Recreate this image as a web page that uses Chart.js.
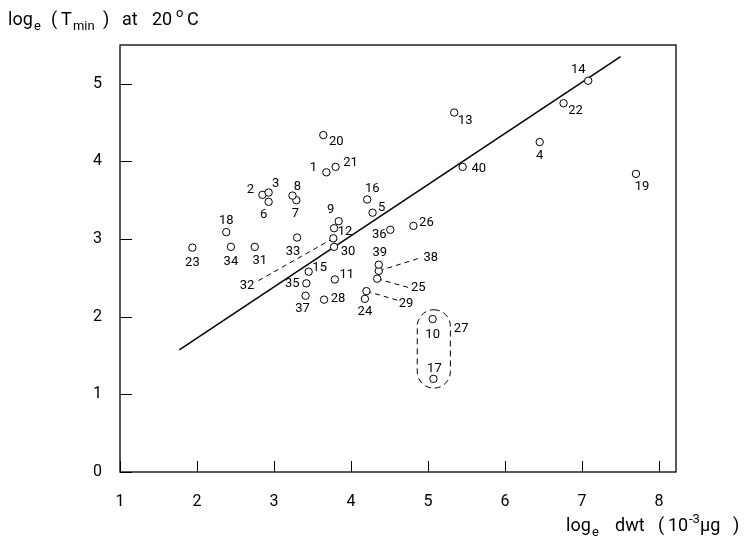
<!DOCTYPE html>
<html>
<head>
<meta charset="utf-8">
<script src="https://cdn.jsdelivr.net/npm/chart.js@4.4.1/dist/chart.umd.min.js"></script>
<style>
  html, body { margin: 0; padding: 0; background: #fff; }
</style>
</head>
<body>
<canvas id="c" width="746" height="541"></canvas>
<script>
// species numbers and measured values (loge dwt, loge Tmin)
const ids  = ['1','2','3','4','5','6','7','8','9','10','11','12','13','14','15','16','17','18','19','20',
              '21','22','23','24','25','26','28','29','30','31','32','33','34','35','36','37','38','39','40'];
const dwt  = [3.68,2.85,2.93,6.45,4.28,2.93,3.29,3.24,3.84,5.06,3.79,3.78,5.34,7.08,3.45,4.21,5.07,2.38,7.70,3.64,
              3.80,6.76,1.94,4.18,4.34,4.81,3.65,4.20,3.78,2.75,3.77,3.30,2.44,3.42,4.51,3.41,4.36,4.36,5.45];
const tmin = [3.86,3.57,3.60,4.25,3.34,3.48,3.50,3.56,3.23,1.97,2.48,3.14,4.63,5.04,2.58,3.51,1.20,3.09,3.84,4.34,
              3.93,4.75,2.89,2.23,2.49,3.17,2.22,2.33,2.90,2.90,3.01,3.02,2.90,2.43,3.12,2.27,2.59,2.67,3.93];

// regression line end points
const fitX = [1.77, 7.50];
const fitY = [1.574, 5.35];

// dashed leaders: point id -> far end (data units)
const leaderIds = ['32','38','25','29'];
const leaderX   = [2.766, 4.92, 4.77, 4.61];
const leaderY   = [2.447, 2.765, 2.37, 2.21];

// group 27 (points 10 and 17) enclosure, data units
const groupX = [4.86, 5.29];
const groupY = [1.08, 2.09];
const groupLabel = '27';
const groupLabelAt = [5.43, 1.85];

const xTicks = [1,2,3,4,5,6,7,8];
const yTicks = [0,1,2,3,4,5];

// label placement (px offset of label centre from its point)
const labelOff = {
  '1':[-13,-5],'2':[-12,-5],'3':[7,-9],'4':[0,14],'5':[9,-5],'6':[-5,13],'7':[-1,13],'8':[5,-9],
  '9':[-8,-11],'10':[0,16],'11':[12,-5],'12':[11,4],'13':[11,8],'14':[-10,-11],'15':[11,-4],
  '16':[5,-11],'17':[1,-10],'18':[0,-11],'19':[6,13],'20':[13,7],'21':[15,-4],'22':[12,8],
  '23':[0,15],'24':[0,13],'26':[13,-3],'28':[14,-1],'30':[14,5],'31':[5,14],'33':[-4,14],
  '34':[0,15],'35':[-14,0],'36':[-11,5],'37':[-3,13],'39':[1,-12],'40':[16,2]
};
const leaderLabelOff = { '32':[-9,4], '38':[9,0], '25':[8,0], '29':[8,3] };

const FONT = 'Roboto, "Liberation Sans", sans-serif';

const pts = ids.map((id, i) => ({ x: dwt[i], y: tmin[i] }));
const leaderSets = leaderIds.map((id, k) => {
  const i = ids.indexOf(id);
  return {
    type: 'line',
    data: [{ x: dwt[i], y: tmin[i] }, { x: leaderX[k], y: leaderY[k] }],
    borderColor: '#000', borderWidth: 1, borderDash: [5, 4],
    pointRadius: 0, fill: false, order: 2
  };
});

function richText(ctx, y, parts, size) {
  // parts: [text, 'n'|'sub'|'sup', x]
  parts.forEach(([t, kind, x]) => {
    let s = size, dy = 0;
    if (kind === 'sub') { s = size * 0.72; dy = size * 0.28; }
    if (kind === 'sup') { s = size * 0.72; dy = -size * 0.42; }
    ctx.font = s + 'px ' + FONT;
    ctx.fillText(t, x, y + dy);
  });
}

const decor = {
  id: 'decor',
  afterDatasetsDraw(chart) {
    const { ctx, chartArea: a, scales: { x, y } } = chart;
    ctx.save();
    ctx.strokeStyle = '#000';
    ctx.fillStyle = '#000';
    // frame
    ctx.lineWidth = 1.3;
    ctx.strokeRect(a.left, a.top, a.right - a.left, a.bottom - a.top);
    // inward ticks
    ctx.lineWidth = 1;
    ctx.beginPath();
    xTicks.forEach(v => {
      const px = Math.round(x.getPixelForValue(v)) + 0.5;
      ctx.moveTo(px, a.bottom); ctx.lineTo(px, a.bottom - 11);
    });
    yTicks.forEach(v => {
      const py = Math.round(y.getPixelForValue(v)) + 0.5;
      ctx.moveTo(a.left, py); ctx.lineTo(a.left + 12, py);
    });
    ctx.stroke();

    // enclosure of group 27
    const gl = x.getPixelForValue(groupX[0]), gr = x.getPixelForValue(groupX[1]);
    const gt = y.getPixelForValue(groupY[1]), gb = y.getPixelForValue(groupY[0]);
    const r = (gr - gl) / 2;
    ctx.setLineDash([6, 4]);
    ctx.beginPath();
    ctx.roundRect(gl, gt, gr - gl, gb - gt, r);
    ctx.stroke();
    ctx.setLineDash([]);

    // point labels
    ctx.font = '13px ' + FONT;
    ctx.textAlign = 'center';
    ctx.textBaseline = 'middle';
    ids.forEach((id, i) => {
      const o = labelOff[id];
      if (!o) return;
      ctx.fillText(id, x.getPixelForValue(dwt[i]) + o[0], y.getPixelForValue(tmin[i]) + o[1]);
    });
    leaderIds.forEach((id, k) => {
      const o = leaderLabelOff[id];
      ctx.fillText(id, x.getPixelForValue(leaderX[k]) + o[0], y.getPixelForValue(leaderY[k]) + o[1]);
    });
    ctx.fillText(groupLabel, x.getPixelForValue(groupLabelAt[0]), y.getPixelForValue(groupLabelAt[1]));

    // axis titles
    ctx.textAlign = 'left';
    ctx.textBaseline = 'alphabetic';
    richText(ctx, 25, [['log', 'n', 8], ['e', 'sub', 34], ['(', 'n', 51], ['T', 'n', 61], ['min', 'sub', 73],
                       [')', 'n', 103], ['at', 'n', 122], ['20', 'n', 152], ['o', 'sup', 176], ['C', 'n', 187]], 18);
    richText(ctx, 531, [['log', 'n', 566], ['e', 'sub', 592], ['dwt', 'n', 615], ['(', 'n', 658], ['10', 'n', 668],
                        ['-3', 'sup', 689], ['\u00b5g', 'n', 700], [')', 'n', 733]], 18);
    ctx.restore();
  }
};

new Chart(document.getElementById('c'), {
  type: 'scatter',
  data: {
    datasets: [
      {
        data: pts,
        pointRadius: 3.7,
        pointBorderWidth: 1,
        pointBorderColor: '#000',
        pointBackgroundColor: '#fff',
        order: 0
      },
      {
        type: 'line',
        data: fitX.map((v, i) => ({ x: v, y: fitY[i] })),
        borderColor: '#000', borderWidth: 1.5,
        pointRadius: 0, fill: false, order: 1
      },
      ...leaderSets
    ]
  },
  options: {
    responsive: false,
    animation: false,
    layout: { padding: { left: 0, top: 45, right: 70, bottom: 0 } },
    plugins: { legend: { display: false }, tooltip: { enabled: false } },
    scales: {
      x: {
        type: 'linear', min: 1, max: 8.22,
        afterBuildTicks: s => { s.ticks = xTicks.map(v => ({ value: v })); },
        afterFit: s => { s.height = 69; },
        grid: { display: false }, border: { display: false },
        ticks: { color: '#000', padding: 12, font: { size: 16, family: FONT } }
      },
      y: {
        type: 'linear', min: 0, max: 5.5,
        afterBuildTicks: s => { s.ticks = yTicks.map(v => ({ value: v })); },
        afterFit: s => { s.width = 120; },
        grid: { display: false }, border: { display: false },
        ticks: { color: '#000', padding: 10, font: { size: 16, family: FONT } }
      }
    }
  },
  plugins: [decor]
});
</script>
</body>
</html>
